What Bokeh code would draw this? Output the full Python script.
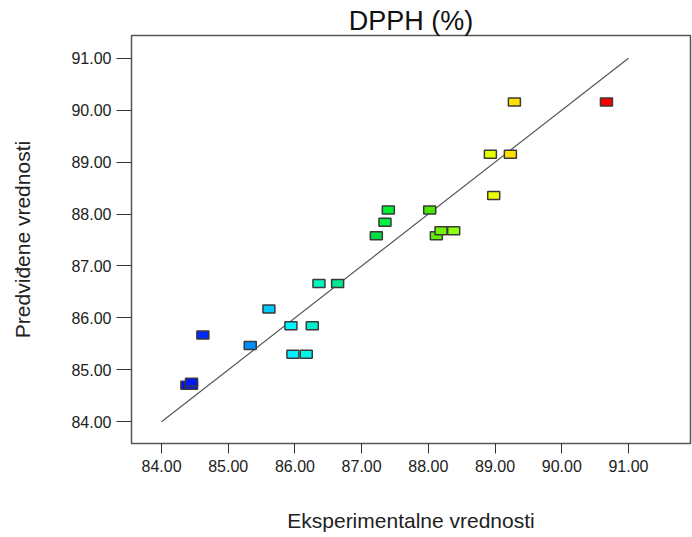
from bokeh.plotting import figure
from bokeh.models import FixedTicker, Range1d, ColumnDataSource
from bokeh.embed import file_html
from bokeh.resources import INLINE

# Experimental (actual) vs predicted DPPH (%)
actual = [84.38, 84.45, 84.45, 84.62, 85.33, 85.61, 85.94, 85.97, 86.17, 86.26,
          86.36, 86.64, 87.22, 87.35, 87.40, 88.02, 88.12, 88.19, 88.38,
          88.93, 88.98, 89.23, 89.29, 90.67]
predicted = [84.70, 84.70, 84.76, 85.67, 85.47, 86.17, 85.85, 85.30, 85.30, 85.85,
             86.66, 86.66, 87.58, 87.84, 88.08, 88.08, 87.58, 87.68, 87.68,
             89.15, 88.36, 89.15, 90.16, 90.16]
colors = ["#0010f0", "#0018f8", "#0018f8", "#0028ff", "#0090ff", "#00c8ff", "#00f4ff",
          "#00f0ff", "#00f4e8", "#00f0d0", "#00f8c0", "#00e890", "#00e040",
          "#00f040", "#00f030", "#48e800", "#60f000", "#70f400", "#90ff10",
          "#e8ff00", "#f0ff00", "#ffe000", "#ffe000", "#ff0000"]
line_x = [84.0, 91.0]
line_y = [84.0, 91.0]
ticks = [84, 85, 86, 87, 88, 89, 90, 91]

src = ColumnDataSource(dict(x=actual, y=predicted, c=colors))

p = figure(width=692, height=537, output_backend="svg", toolbar_location=None,
           x_range=Range1d(83.55, 91.93), y_range=Range1d(83.58, 91.44),
           min_border_left=131, min_border_right=2, min_border_top=35,
           min_border_bottom=94, title="DPPH (%)")

p.title.text_font = "Liberation Sans"
p.title.text_font_size = "27px"
p.title.text_font_style = "normal"
p.title.align = "center"
p.title.text_color = "#111111"
p.title.standoff = 0
p.title.offset = 0

p.xgrid.visible = False
p.ygrid.visible = False
p.outline_line_color = "#555555"
p.outline_line_width = 1.5

for ax in (p.xaxis[0], p.yaxis[0]):
    ax.ticker = FixedTicker(ticks=ticks)
    ax.minor_tick_line_color = None
    ax.major_tick_in = 0
    ax.axis_line_color = "#555555"
    ax.major_tick_line_color = "#333333"
    ax.major_label_text_font = "Liberation Sans"
    ax.major_label_text_font_size = "16px"
    ax.major_label_text_color = "#222222"
    ax.axis_label_text_font = "Liberation Sans"
    ax.axis_label_text_font_size = "21px"
    ax.axis_label_text_font_style = "normal"
    ax.axis_label_text_color = "#222222"

p.xaxis.major_label_overrides = {t: f"{t:.2f}" for t in ticks}
p.yaxis.major_label_overrides = {t: f"{t:.2f}" for t in ticks}
p.xaxis.major_tick_out = 10
p.yaxis.major_tick_out = 15
p.xaxis.major_label_standoff = 6
p.yaxis.major_label_standoff = 5
p.xaxis.axis_label = "Eksperimentalne vrednosti"
p.yaxis.axis_label = "Predviđene vrednosti"
p.xaxis.axis_label_standoff = 34
p.yaxis.axis_label_standoff = 34

p.line(line_x, line_y, line_color="#555555", line_width=1.2)
p.rect(x="x", y="y", width=12, height=8, width_units="screen", height_units="screen",
       fill_color="c", line_color="#3a3a3a", line_width=1.5, source=src)

open("out.html", "w").write(file_html(p, INLINE))
